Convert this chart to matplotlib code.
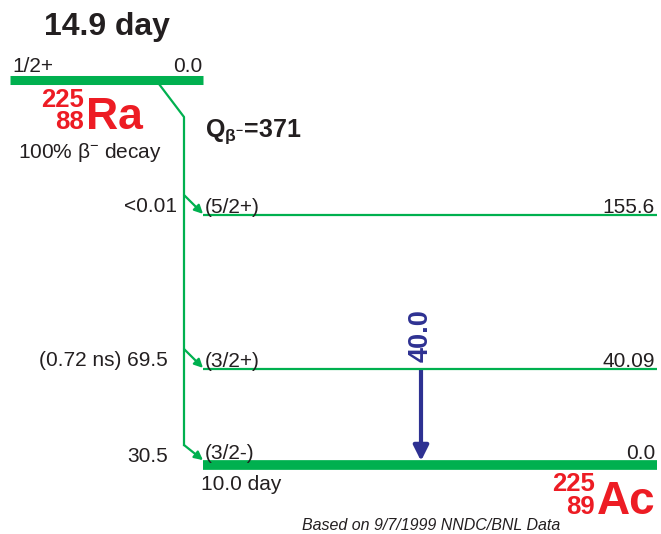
import matplotlib
matplotlib.use("Agg")
import matplotlib.pyplot as plt
from matplotlib.patches import FancyArrowPatch

# decay data (225Ra -> 225Ac)
parent_halflife = "14.9 day"
parent_spin = "1/2+"
parent_energy = "0.0"
q_value = "371"
level_energy = ["155.6", "40.09", "0.0"]
level_spin = ["(5/2+)", "(3/2+)", "(3/2-)"]
beta_intensity = ["<0.01", "(0.72 ns) 69.5", "30.5"]
gamma_energy = ["40.0"]
daughter_halflife = "10.0 day"

# layout (pixel coordinates, diagram is not to scale)
level_y = [215, 369, 465]
level_lw = [1.6, 1.6, 7.0]
gamma_from, gamma_to, gamma_x = 1, 2, 421

GREEN = "#00b04f"
RED = "#ed1c24"
NAVY = "#2e3192"
DARK = "#231f20"

plt.rcParams["font.family"] = ["Liberation Sans", "DejaVu Sans"]
plt.rcParams["mathtext.fontset"] = "custom"
plt.rcParams["mathtext.rm"] = "Liberation Sans"
plt.rcParams["mathtext.bf"] = "Liberation Sans:bold"

fig = plt.figure(figsize=(6.61, 5.34), dpi=100)
ax = fig.add_axes([0, 0, 1, 1])
ax.set_xlim(0, 661)
ax.set_ylim(534, 0)
ax.axis("off")

# parent level
ax.plot([10, 203], [79.5, 79.5], color=GREEN, lw=6.5, solid_capstyle="butt")
ax.text(12, 72, parent_spin, fontsize=15, color=DARK, va="baseline")
ax.text(202, 72, parent_energy, fontsize=15, color=DARK, va="baseline", ha="right")
ax.text(107, 35, parent_halflife, fontsize=23, fontweight="bold", color=DARK,
        ha="center", va="baseline")

# parent nuclide label
ax.text(84, 107, "225", fontsize=18.5, fontweight="bold", color=RED, ha="right", va="baseline")
ax.text(84, 129, "88", fontsize=18.5, fontweight="bold", color=RED, ha="right", va="baseline")
ax.text(86, 129, "Ra", fontsize=32, fontweight="bold", color=RED, va="baseline")
ax.text(18, 158, r"100% $\mathregular{\beta^{-}}$ decay", fontsize=15, color=DARK, va="baseline")

# Q value
ax.text(205, 137, r"$\mathbf{Q_{\beta^{-}}}$=" + q_value, fontsize=18,
        fontweight="bold", color=DARK, va="baseline")

# beta feeding line
trunk_x = 184
ax.plot([159, trunk_x, trunk_x], [84, 117, level_y[-1] - 20], color=GREEN, lw=1.6)

# daughter levels
for y, lw, e, s, b in zip(level_y, level_lw, level_energy, level_spin, beta_intensity):
    top = y - lw * 100 / 72 / 2
    ax.plot([203, 657], [y, y], color=GREEN, lw=lw, solid_capstyle="butt")
    ax.text(205, top - 1, s, fontsize=15, color=DARK, va="baseline")
    ax.text(655, top - 1, e, fontsize=15, color=DARK, va="baseline", ha="right")
    ax.text(177 if b.startswith("<") else 168, y - 8, b, fontsize=15, color=DARK,
            va="center", ha="right")
    arr = FancyArrowPatch((trunk_x, y - 20), (203, top), arrowstyle="-|>,head_length=5,head_width=2.5",
                          color=GREEN, lw=1.6, shrinkA=0, shrinkB=0)
    ax.add_patch(arr)

ax.text(201, 484, daughter_halflife, fontsize=15, color=DARK, va="center")

# gamma transition
g = FancyArrowPatch((gamma_x, level_y[gamma_from] + 1), (gamma_x, level_y[gamma_to] - 4),
                    arrowstyle="-|>,head_length=9,head_width=4.5", color=NAVY,
                    lw=3, shrinkA=0, shrinkB=0)
ax.add_patch(g)
ax.text(gamma_x, level_y[gamma_from] - 7, gamma_energy[0], fontsize=19.5, fontweight="bold",
        color=NAVY, rotation=90, ha="center", va="bottom")

# daughter nuclide label
ax.text(595, 491, "225", fontsize=18.5, fontweight="bold", color=RED, ha="right", va="baseline")
ax.text(595, 514, "89", fontsize=18.5, fontweight="bold", color=RED, ha="right", va="baseline")
ax.text(597, 514, "Ac", fontsize=33, fontweight="bold", color=RED, va="baseline")

ax.text(560, 526, "Based on 9/7/1999 NNDC/BNL Data", fontsize=11.5, style="italic",
        color=DARK, ha="right", va="center")

fig.savefig("out.png", dpi=100)
